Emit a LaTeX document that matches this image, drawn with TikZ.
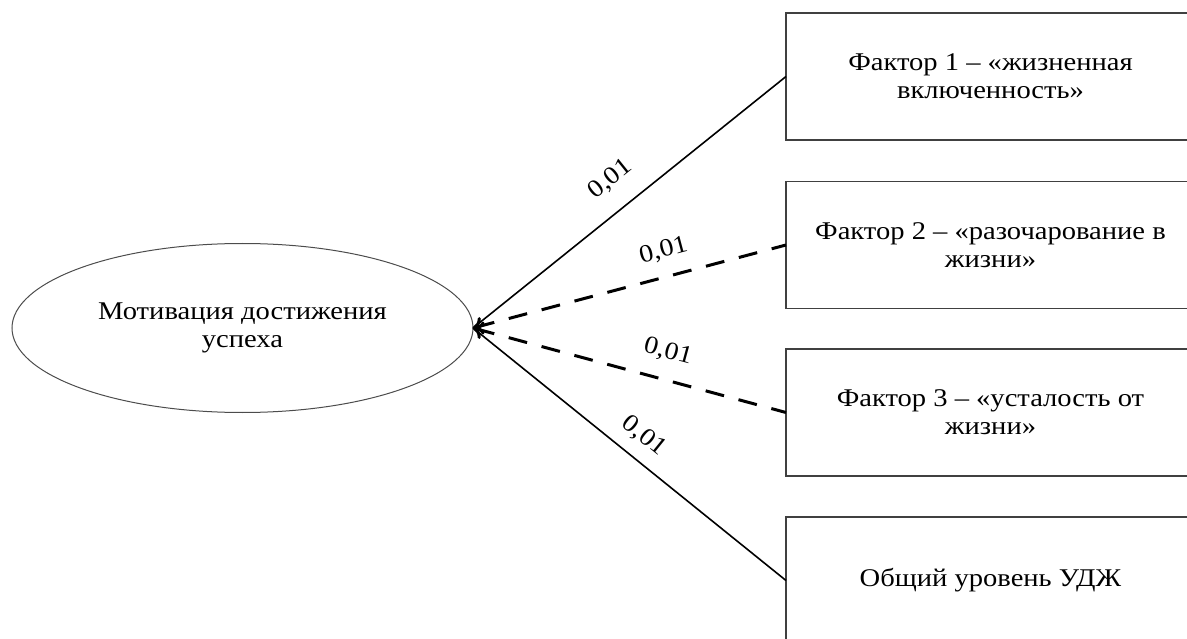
\documentclass[tikz,border=0pt]{standalone}
\usepackage{fontspec}
\setmainfont{Liberation Serif}[FakeStretch=1.12]
\usetikzlibrary{shapes.geometric,arrows.meta}
\tikzset{
  factorbox/.style={draw=black!75, line width=1.3pt, minimum width=409pt, minimum height=127pt, align=center, inner sep=0pt, outer sep=0pt},
  motiv/.style={ellipse, draw=black!70, line width=1pt, minimum width=461pt, minimum height=169pt, align=center, inner sep=0pt, outer sep=0pt},
  solidlink/.style={line width=1.6pt, black},
  dashlink/.style={line width=3pt, black, dash pattern=on 19pt off 15pt, {To[length=10pt,width=18pt]}-},
  coef/.style={sloped, font=\fontsize{25}{28}\selectfont, inner sep=0pt}
}
\begin{document}
\begin{tikzpicture}[x=1pt,y=-1pt, every node/.append style={font=\fontsize{25.5}{28}\selectfont}]
\useasboundingbox (0,0) rectangle (1187,639);
\node[motiv] (m) at (242.5,328) {Мотивация достижения\\успеха};
\node[factorbox] (f1) at (990.5,76.5) {Фактор 1 – «жизненная\\включенность»};
\node[factorbox] (f2) at (990.5,245) {Фактор 2 – «разочарование в\\жизни»};
\node[factorbox] (f3) at (990.5,412.5) {Фактор 3 – «усталость от\\жизни»};
\node[factorbox] (f4) at (990.5,580.5) {Общий уровень УДЖ};
\draw[solidlink] (m.east) -- (f1.west) node[coef, pos=0.5, above=19pt] (l1) {0,01};
\draw[dashlink] (m.east) -- (f2.west) node[coef, pos=0.63, above=14pt] (l2) {0,01};
\draw[dashlink] (m.east) -- (f3.west) node[coef, pos=0.6, above=16pt] (l3) {0,01};
\draw[solidlink] (m.east) -- (f4.west) node[coef, pos=0.5, above=12pt] (l4) {0,01};
\end{tikzpicture}
\end{document}
